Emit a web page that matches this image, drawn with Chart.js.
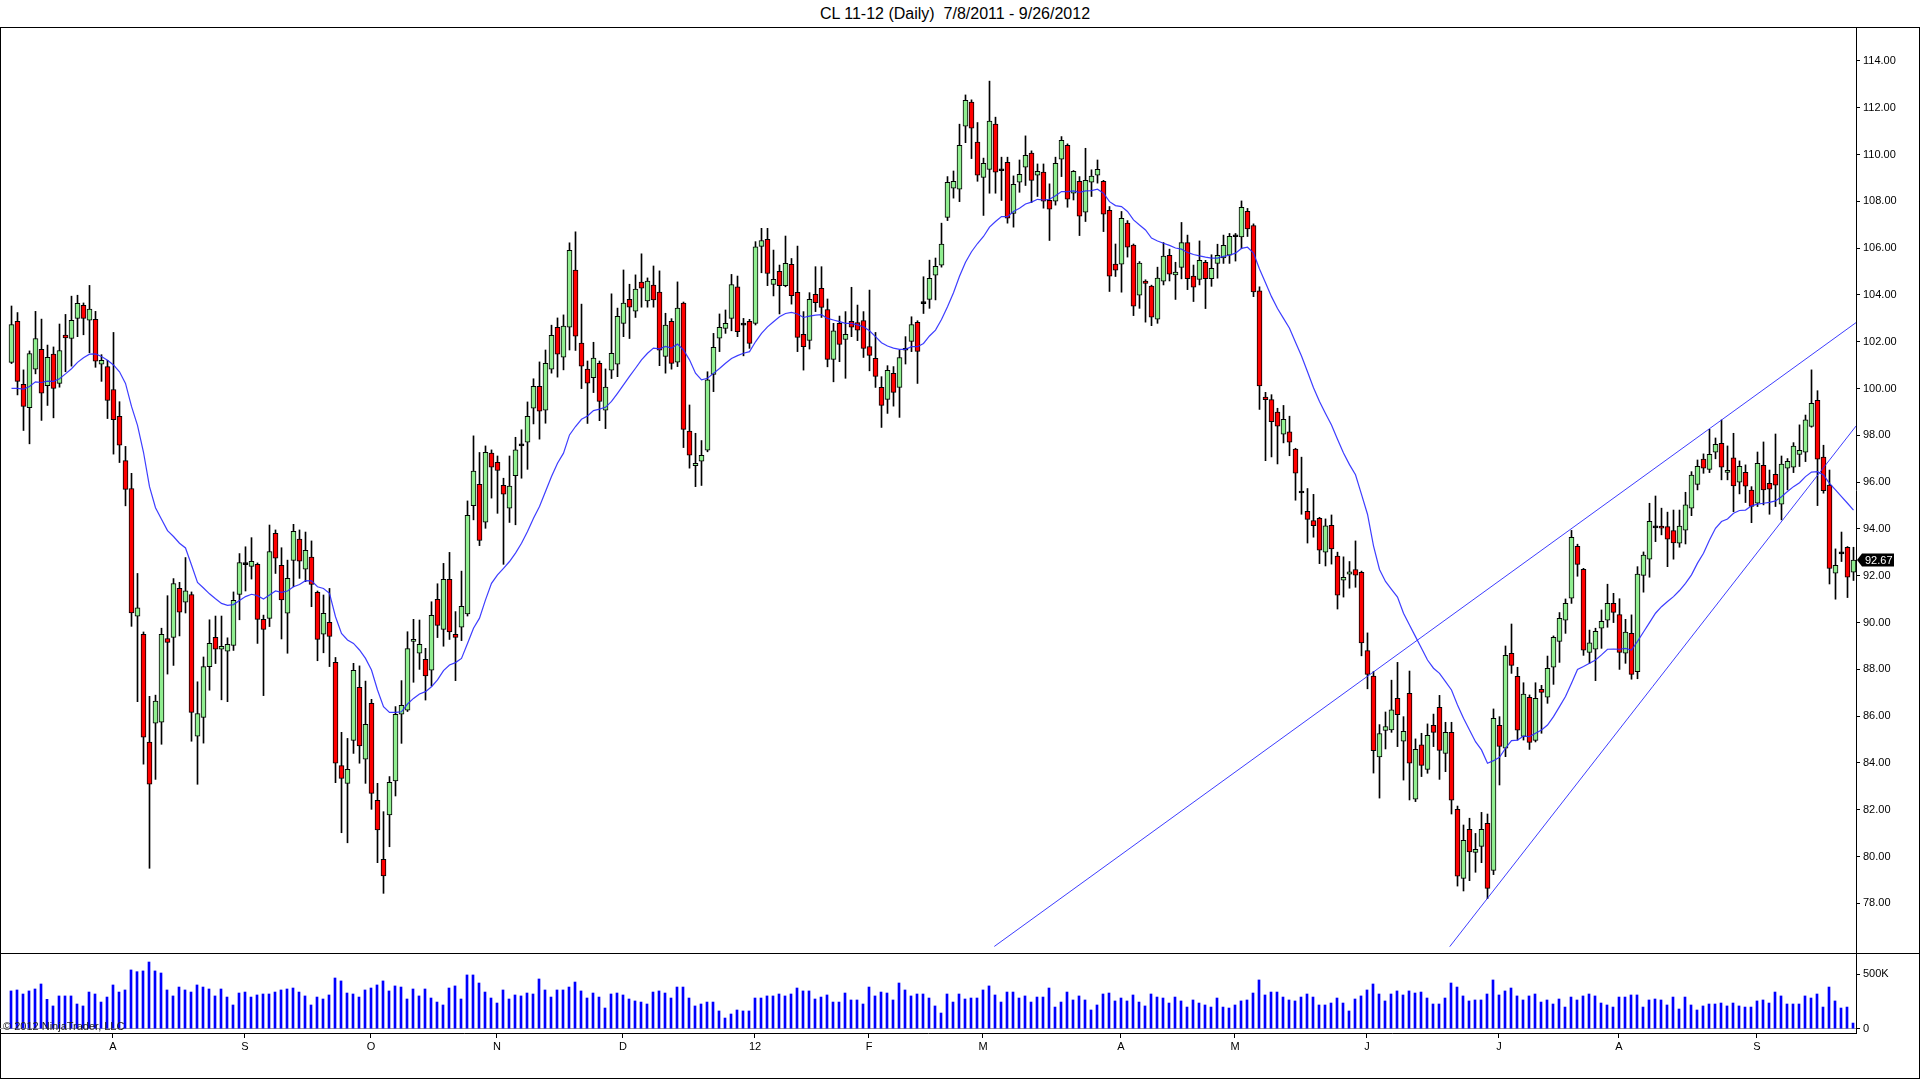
<!DOCTYPE html>
<html>
<head>
<meta charset="utf-8">
<title>CL 11-12 (Daily)</title>
<script src="https://cdn.jsdelivr.net/npm/chart.js@4.4.1/dist/chart.umd.min.js"></script>
<style>
  html, body { margin: 0; padding: 0; background: #fff; }
  body { width: 1920px; height: 1079px; position: relative; overflow: hidden; font-family: "Liberation Sans", Arial, sans-serif; }
  #title { position: absolute; left: 0; top: 0; width: 1910px; height: 27px; line-height: 27px; text-align: center; font-size: 16px; color: #000; white-space: pre; }
  #frame { position: absolute; left: 0; top: 27px; width: 1918px; height: 1050px; border: 1px solid #000; }
  #sep { position: absolute; left: 0; top: 953px; width: 1920px; height: 1px; background: #000; }
  #priceCanvas { position: absolute; left: 0; top: 27px; }
  #volCanvas { position: absolute; left: 0; top: 953px; }
  #copy { position: absolute; left: 3px; top: 1021px; font-size: 11px; line-height: 11px; color: #222; white-space: pre; }
</style>
</head>
<body>
<div id="title">CL 11-12 (Daily)  7/8/2011 - 9/26/2012</div>
<div id="frame"></div>
<canvas id="priceCanvas" width="1920" height="926"></canvas>
<canvas id="volCanvas" width="1920" height="125"></canvas>
<div id="sep"></div>
<div id="copy">© 2012 NinjaTrader, LLC</div>
<script>
// daily bars, 7/8/2011 .. 9/26/2012 (index = bar number)
const opens = [
  101.12, 102.87, 100.18, 99.19, 100.83, 101.68, 100.13, 101.47, 100.22, 102.29,
  102.14, 103.00, 103.56, 102.92, 102.96, 101.04, 100.94, 99.96, 98.82, 96.92,
  95.73, 90.27, 89.50, 84.89, 85.70, 85.74, 89.32, 89.37, 91.46, 90.87,
  91.20, 85.15, 85.95, 88.12, 89.37, 88.86, 88.78, 89.02, 91.20, 92.48,
  92.40, 92.49, 90.14, 90.18, 93.81, 92.45, 90.40, 92.66, 93.57, 92.28,
  92.80, 91.29, 89.50, 90.01, 88.30, 83.89, 83.13, 84.97, 87.23, 84.16,
  86.55, 82.40, 79.88, 81.78, 83.23, 86.09, 86.26, 89.20, 88.69, 88.43,
  87.97, 90.99, 89.71, 91.85, 89.50, 89.80, 90.37, 95.00, 95.91, 94.29,
  97.24, 96.85, 95.87, 94.89, 96.28, 97.55, 97.71, 99.16, 100.10, 99.08,
  100.83, 102.62, 101.34, 102.62, 105.06, 101.94, 100.83, 100.47, 101.08, 99.08,
  100.79, 101.04, 102.79, 103.82, 103.31, 104.55, 103.75, 104.42, 104.12, 101.38,
  102.88, 101.13, 103.65, 98.18, 96.71, 96.90, 97.37, 100.61, 102.15, 102.57,
  103.00, 104.35, 102.71, 102.87, 102.79, 106.08, 106.38, 104.45, 105.01, 104.40,
  105.31, 104.11, 102.32, 102.06, 104.03, 104.28, 103.38, 101.25, 102.79, 102.10,
  102.87, 102.82, 102.91, 101.80, 101.29, 100.05, 99.54, 100.65, 100.05, 101.64,
  102.02, 102.83, 103.63, 103.81, 104.85, 105.27, 107.32, 108.56, 108.52, 111.21,
  112.24, 110.53, 109.03, 109.37, 111.30, 109.31, 109.67, 107.49, 108.82, 109.46,
  110.06, 109.12, 109.25, 108.05, 108.01, 109.80, 110.40, 108.35, 108.86, 107.54,
  108.82, 109.12, 108.86, 107.62, 105.32, 105.32, 107.07, 106.13, 103.99, 104.59,
  104.38, 102.97, 104.59, 105.70, 104.86, 105.18, 106.24, 104.81, 104.67, 105.40,
  104.70, 105.35, 105.58, 105.70, 106.49, 106.48, 107.58, 106.97, 104.18, 99.64,
  99.53, 99.00, 98.05, 98.15, 97.41, 95.54, 94.75, 94.36, 94.46, 93.01,
  94.16, 92.84, 91.81, 92.07, 92.27, 92.15, 88.80, 87.71, 84.26, 85.39,
  85.41, 86.76, 84.93, 86.98, 82.45, 84.78, 83.73, 85.61, 86.38, 84.41,
  85.31, 82.02, 79.07, 81.17, 80.18, 80.44, 81.42, 79.41, 85.61, 84.63,
  88.69, 87.70, 85.14, 86.81, 84.97, 87.15, 86.81, 88.09, 89.20, 90.10,
  91.04, 93.26, 92.28, 88.73, 88.86, 89.76, 90.10, 90.82, 90.34, 88.69,
  89.54, 87.90, 92.02, 92.71, 94.05, 94.12, 94.10, 93.93, 93.39, 93.95,
  94.89, 95.91, 96.99, 96.55, 97.28, 97.66, 96.42, 97.04, 96.00, 96.42,
  95.66, 95.10, 96.72, 95.95, 96.34, 95.06, 96.60, 96.64, 97.19, 97.28,
  98.38, 99.50, 97.07, 95.88, 92.11, 92.94, 93.22, 92.15
];
const highs = [
  103.53, 103.25, 100.80, 101.61, 103.30, 102.97, 101.86, 101.78, 102.76, 103.17,
  103.95, 103.99, 103.66, 104.41, 103.30, 101.45, 101.21, 102.40, 99.44, 97.53,
  96.38, 92.10, 89.60, 86.85, 86.90, 89.76, 91.15, 91.88, 91.72, 92.78,
  91.31, 87.47, 88.53, 90.12, 90.28, 90.28, 89.35, 91.31, 92.95, 93.24,
  93.63, 92.55, 90.32, 94.17, 93.96, 93.20, 92.67, 94.20, 93.96, 93.87,
  93.49, 91.35, 91.18, 91.46, 88.51, 85.31, 85.05, 88.26, 88.15, 87.50,
  86.72, 83.13, 81.92, 83.42, 86.41, 87.52, 89.61, 90.14, 90.11, 88.90,
  90.89, 91.66, 92.53, 93.00, 90.47, 92.20, 95.20, 97.98, 97.27, 97.55,
  97.38, 97.12, 96.17, 97.12, 97.92, 98.24, 99.43, 100.42, 101.14, 101.65,
  102.71, 103.02, 103.15, 106.23, 106.70, 103.61, 101.18, 101.98, 101.18, 100.84,
  104.05, 103.44, 105.07, 104.46, 104.86, 105.76, 104.73, 105.24, 105.03, 103.22,
  102.99, 104.56, 103.70, 99.30, 98.09, 97.78, 100.72, 102.36, 103.19, 103.36,
  104.88, 104.81, 103.00, 102.96, 106.28, 106.85, 106.85, 105.92, 105.28, 106.52,
  105.56, 106.09, 103.29, 104.10, 105.21, 105.21, 103.83, 102.79, 103.10, 103.29,
  104.33, 103.57, 103.29, 104.21, 102.40, 100.51, 100.98, 100.94, 101.65, 102.22,
  103.07, 102.90, 104.78, 105.49, 105.58, 107.07, 109.06, 109.30, 111.30, 112.55,
  112.34, 111.37, 109.85, 113.14, 111.60, 109.89, 109.89, 109.09, 109.77, 110.80,
  110.16, 109.60, 109.60, 108.75, 109.89, 110.77, 110.46, 109.32, 109.06, 110.27,
  109.35, 109.77, 108.90, 107.78, 106.18, 107.57, 107.18, 106.18, 105.43, 104.65,
  104.42, 105.19, 106.24, 105.96, 105.40, 107.10, 106.56, 105.28, 106.31, 105.48,
  105.72, 106.17, 106.56, 106.63, 106.63, 108.02, 107.70, 107.04, 104.35, 99.84,
  99.74, 99.16, 99.28, 98.82, 97.45, 97.07, 95.73, 95.48, 94.50, 94.43,
  94.60, 93.01, 92.81, 92.61, 93.49, 92.20, 89.56, 87.91, 85.64, 86.18,
  87.54, 88.30, 85.98, 87.93, 85.03, 85.27, 85.67, 86.09, 86.89, 85.74,
  85.74, 82.16, 81.35, 81.64, 80.99, 81.89, 81.82, 86.31, 85.98, 89.00,
  89.94, 88.09, 87.43, 86.91, 87.43, 87.32, 88.57, 89.43, 90.43, 91.01,
  93.94, 93.35, 92.32, 89.68, 89.76, 90.54, 91.64, 91.25, 91.02, 90.14,
  90.33, 92.39, 93.02, 95.10, 95.41, 94.89, 94.72, 94.81, 94.81, 95.57,
  96.45, 96.95, 97.21, 98.26, 97.89, 98.66, 97.55, 98.09, 96.91, 96.74,
  95.81, 97.29, 97.72, 96.52, 98.06, 97.12, 97.01, 97.69, 98.45, 98.87,
  100.80, 99.91, 97.58, 96.52, 93.15, 93.87, 93.25, 93.22
];
const lows = [
  101.07, 99.73, 98.21, 97.64, 100.63, 98.64, 99.28, 98.75, 100.06, 100.72,
  100.96, 102.22, 102.30, 101.53, 100.91, 100.31, 98.72, 97.20, 96.84, 94.99,
  89.84, 86.62, 83.95, 79.50, 83.30, 84.80, 87.80, 88.17, 89.43, 90.41,
  84.93, 83.09, 84.85, 87.11, 88.25, 86.70, 86.62, 88.81, 90.12, 91.35,
  91.86, 89.11, 86.88, 89.83, 92.10, 89.30, 88.69, 91.53, 91.89, 91.75,
  90.68, 88.37, 88.71, 88.12, 83.16, 81.02, 80.59, 84.41, 83.99, 83.13,
  82.02, 79.74, 78.43, 80.42, 82.59, 84.84, 86.20, 87.45, 88.00, 86.69,
  87.29, 89.36, 88.99, 89.28, 87.52, 89.23, 90.28, 94.39, 93.29, 94.03,
  95.32, 94.67, 92.49, 94.28, 94.18, 96.17, 96.55, 98.49, 97.84, 98.52,
  100.66, 100.49, 100.80, 101.65, 101.63, 100.00, 98.51, 99.83, 98.63, 98.29,
  100.43, 100.51, 102.22, 102.14, 103.04, 103.48, 103.48, 103.48, 100.98, 100.66,
  100.83, 100.94, 97.48, 96.60, 95.81, 95.86, 97.30, 99.87, 101.58, 102.36,
  102.47, 102.22, 101.40, 101.72, 102.72, 104.95, 104.40, 103.96, 103.19, 104.35,
  103.61, 101.58, 100.79, 101.69, 103.29, 103.04, 100.93, 100.29, 101.15, 100.44,
  102.22, 102.05, 101.33, 100.76, 100.05, 98.34, 98.94, 99.25, 98.77, 101.05,
  101.58, 100.22, 103.21, 103.43, 103.79, 105.19, 107.18, 108.14, 107.99, 110.51,
  109.83, 108.86, 107.40, 108.35, 108.35, 108.04, 107.07, 106.90, 108.39, 108.68,
  107.95, 108.21, 107.71, 106.33, 107.84, 109.06, 107.75, 108.06, 106.54, 107.14,
  108.21, 108.78, 106.71, 104.15, 104.79, 104.12, 105.62, 103.12, 103.43, 102.84,
  102.69, 102.79, 104.43, 104.60, 103.81, 104.69, 104.23, 103.72, 104.43, 103.42,
  104.37, 104.72, 105.35, 105.35, 105.45, 105.99, 106.50, 103.93, 99.11, 96.92,
  97.08, 96.78, 97.68, 97.13, 95.23, 94.63, 93.40, 93.65, 92.52, 92.42,
  92.50, 90.58, 91.09, 91.47, 91.51, 88.58, 87.17, 83.57, 82.50, 84.60,
  85.31, 84.70, 83.27, 82.42, 82.35, 83.42, 83.56, 84.70, 83.30, 83.63,
  81.82, 78.74, 78.53, 78.97, 79.33, 79.74, 78.20, 79.23, 83.06, 84.27,
  87.83, 84.98, 84.98, 84.58, 84.90, 85.27, 86.55, 87.36, 88.30, 89.54,
  90.82, 91.98, 88.60, 88.26, 87.52, 88.90, 89.80, 90.00, 88.00, 88.26,
  87.58, 87.60, 91.30, 91.94, 93.46, 93.75, 92.39, 92.71, 93.22, 93.36,
  94.57, 95.67, 96.38, 96.41, 97.00, 96.10, 96.10, 94.74, 95.50, 95.13,
  94.27, 94.96, 95.03, 94.63, 94.96, 94.39, 95.67, 96.41, 96.67, 96.88,
  98.35, 95.00, 95.53, 91.65, 91.00, 92.61, 91.07, 91.80
];
const closes = [
  102.74, 100.31, 99.24, 101.50, 102.14, 99.80, 101.34, 100.01, 101.63, 102.17,
  102.92, 103.64, 103.00, 103.40, 101.17, 101.21, 99.49, 98.67, 97.58, 95.69,
  90.41, 90.63, 85.10, 83.09, 86.65, 89.50, 89.15, 91.67, 90.45, 91.36,
  86.16, 86.11, 88.12, 89.11, 88.86, 88.99, 89.07, 90.95, 92.57, 92.51,
  92.62, 90.14, 89.71, 93.04, 92.75, 90.97, 91.89, 93.90, 92.62, 93.09,
  91.63, 89.28, 90.40, 89.41, 83.99, 83.34, 83.73, 87.96, 84.73, 85.65,
  82.70, 81.14, 79.17, 83.17, 86.08, 86.46, 88.89, 89.28, 89.07, 87.72,
  90.31, 89.88, 91.85, 89.60, 89.37, 90.69, 94.58, 96.47, 93.51, 97.28,
  96.64, 96.50, 95.49, 95.83, 97.38, 97.59, 98.82, 100.10, 99.03, 101.08,
  102.28, 101.47, 102.67, 105.91, 102.24, 100.96, 100.23, 101.30, 99.45, 100.06,
  101.51, 103.09, 103.65, 103.48, 104.25, 104.29, 104.59, 103.79, 101.64, 102.71,
  101.08, 103.44, 98.26, 97.15, 96.81, 97.15, 100.37, 101.76, 102.62, 102.79,
  104.45, 102.43, 102.74, 101.93, 106.06, 106.33, 104.92, 104.67, 104.40, 105.35,
  103.97, 102.19, 101.79, 103.81, 103.67, 103.47, 101.25, 102.47, 101.89, 102.32,
  102.62, 102.50, 101.72, 101.42, 100.52, 99.28, 100.78, 99.84, 101.33, 101.67,
  102.74, 101.59, 103.66, 104.71, 105.22, 106.18, 108.82, 108.86, 110.40, 112.32,
  111.13, 109.12, 109.63, 111.43, 109.25, 109.34, 107.28, 108.73, 109.16, 109.97,
  108.90, 109.29, 108.01, 107.67, 109.63, 110.61, 108.09, 109.29, 107.37, 108.90,
  109.08, 109.37, 107.45, 104.80, 105.06, 107.28, 106.04, 103.52, 105.36, 104.50,
  103.05, 104.72, 105.66, 104.89, 104.98, 106.24, 104.70, 104.33, 105.48, 104.70,
  105.14, 105.70, 106.12, 106.51, 106.52, 107.75, 106.82, 104.13, 100.11, 99.53,
  98.59, 98.39, 98.69, 97.71, 96.39, 95.57, 94.41, 94.14, 93.10, 94.13,
  93.15, 91.17, 91.93, 92.17, 92.03, 89.13, 87.79, 84.53, 85.26, 85.56,
  86.27, 86.07, 85.35, 83.99, 84.58, 83.90, 85.18, 85.31, 84.54, 85.31,
  82.41, 79.16, 80.70, 80.20, 80.31, 81.17, 78.64, 85.91, 84.71, 88.60,
  88.17, 85.40, 86.94, 84.88, 86.76, 87.02, 88.05, 89.37, 90.18, 90.82,
  93.64, 92.49, 88.82, 89.14, 89.63, 90.05, 90.82, 90.44, 88.73, 89.59,
  87.79, 92.07, 92.88, 94.33, 94.07, 94.03, 93.56, 93.40, 94.12, 95.03,
  96.30, 96.68, 96.60, 97.19, 97.62, 96.64, 96.51, 95.84, 96.68, 95.83,
  94.97, 96.81, 95.67, 95.70, 95.87, 96.77, 96.89, 97.54, 97.36, 98.66,
  99.37, 96.98, 95.64, 92.31, 92.45, 92.96, 91.94, 92.67
];
const volumes = [
  347000, 356000, 319000, 347000, 365000, 411000, 270000, 209000, 301000, 301000,
  301000, 227000, 209000, 337000, 319000, 245000, 291000, 402000, 337000, 356000,
  540000, 524000, 531000, 613000, 531000, 512000, 356000, 301000, 383000, 356000,
  337000, 402000, 383000, 365000, 301000, 365000, 291000, 218000, 328000, 337000,
  291000, 310000, 319000, 319000, 337000, 356000, 365000, 374000, 337000, 301000,
  218000, 291000, 273000, 310000, 466000, 439000, 328000, 319000, 291000, 356000,
  374000, 402000, 439000, 347000, 393000, 383000, 273000, 365000, 301000, 365000,
  282000, 245000, 218000, 374000, 393000, 273000, 494000, 494000, 420000, 337000,
  282000, 236000, 356000, 273000, 310000, 301000, 328000, 319000, 457000, 356000,
  291000, 356000, 356000, 383000, 429000, 347000, 282000, 328000, 291000, 190000,
  319000, 328000, 310000, 273000, 255000, 245000, 227000, 337000, 347000, 328000,
  282000, 383000, 383000, 282000, 209000, 227000, 245000, 245000, 163000, 98000,
  135000, 172000, 163000, 163000, 282000, 282000, 301000, 301000, 319000, 301000,
  319000, 374000, 347000, 347000, 273000, 291000, 310000, 245000, 245000, 328000,
  264000, 264000, 227000, 383000, 301000, 337000, 328000, 264000, 420000, 356000,
  301000, 319000, 319000, 282000, 209000, 144000, 319000, 245000, 319000, 273000,
  282000, 282000, 356000, 393000, 310000, 245000, 337000, 337000, 282000, 301000,
  245000, 291000, 291000, 374000, 199000, 245000, 337000, 264000, 301000, 264000,
  172000, 218000, 319000, 328000, 255000, 282000, 255000, 310000, 245000, 209000,
  319000, 291000, 282000, 236000, 291000, 255000, 199000, 264000, 236000, 218000,
  199000, 282000, 199000, 190000, 218000, 255000, 264000, 328000, 448000, 310000,
  337000, 337000, 291000, 264000, 255000, 291000, 319000, 291000, 218000, 218000,
  236000, 282000, 236000, 163000, 273000, 301000, 356000, 411000, 319000, 255000,
  319000, 347000, 310000, 347000, 328000, 337000, 282000, 227000, 227000, 282000,
  420000, 383000, 301000, 255000, 264000, 264000, 319000, 448000, 310000, 347000,
  374000, 301000, 264000, 301000, 319000, 245000, 264000, 227000, 273000, 199000,
  291000, 264000, 301000, 319000, 301000, 236000, 218000, 199000, 291000, 291000,
  310000, 310000, 199000, 264000, 273000, 264000, 218000, 291000, 181000, 291000,
  218000, 172000, 209000, 227000, 227000, 236000, 209000, 236000, 209000, 199000,
  199000, 255000, 264000, 236000, 337000, 301000, 227000, 227000, 227000, 301000,
  282000, 319000, 199000, 383000, 255000, 190000, 199000, 52000
];
// moving average line as plotted on the chart
const smaValues = [
  100.01, 100.01, 99.98, 100.09, 100.29, 100.26, 100.32, 100.31, 100.42, 100.63,
  100.85, 101.12, 101.32, 101.47, 101.48, 101.37, 101.21, 101.01, 100.72, 100.22,
  99.24, 98.43, 97.28, 95.81, 94.91, 94.42, 93.93, 93.68, 93.39, 93.19,
  92.46, 91.72, 91.48, 91.23, 91.02, 90.82, 90.74, 90.77, 90.94, 91.11,
  91.21, 91.15, 91.01, 91.18, 91.35, 91.29, 91.35, 91.53, 91.63, 91.79,
  91.78, 91.53, 91.46, 91.25, 90.25, 89.54, 89.26, 89.11, 88.83, 88.47,
  87.97, 87.12, 86.41, 86.16, 86.16, 86.19, 86.52, 86.76, 86.95, 87.05,
  87.26, 87.55, 87.95, 88.19, 88.29, 88.47, 89.11, 89.76, 90.19, 90.97,
  91.68, 92.04, 92.32, 92.61, 92.97, 93.39, 93.89, 94.46, 94.96, 95.60,
  96.24, 96.81, 97.24, 98.02, 98.38, 98.69, 98.83, 99.06, 99.12, 99.20,
  99.45, 99.80, 100.16, 100.52, 100.87, 101.23, 101.51, 101.73, 101.70, 101.80,
  101.73, 101.90, 101.65, 101.23, 100.66, 100.37, 100.44, 100.65, 100.86, 101.08,
  101.29, 101.41, 101.51, 101.58, 102.00, 102.36, 102.64, 102.86, 103.07, 103.21,
  103.26, 103.19, 103.04, 103.10, 103.14, 103.16, 103.00, 102.93, 102.86, 102.79,
  102.79, 102.72, 102.64, 102.47, 102.22, 101.96, 101.82, 101.73, 101.68, 101.68,
  101.79, 101.79, 101.93, 102.25, 102.50, 102.95, 103.50, 104.10, 104.80, 105.40,
  105.85, 106.20, 106.50, 106.90, 107.14, 107.35, 107.35, 107.57, 107.71, 107.89,
  107.97, 108.09, 108.06, 108.09, 108.24, 108.42, 108.42, 108.45, 108.39, 108.45,
  108.46, 108.52, 108.35, 107.99, 107.82, 107.78, 107.57, 107.21, 106.99, 106.78,
  106.43, 106.31, 106.21, 106.12, 106.01, 105.96, 105.82, 105.73, 105.67, 105.62,
  105.58, 105.58, 105.65, 105.70, 105.79, 105.99, 106.04, 105.79, 105.11, 104.52,
  103.93, 103.42, 103.00, 102.58, 101.98, 101.39, 100.72, 100.04, 99.45, 98.94,
  98.44, 97.84, 97.25, 96.75, 96.32, 95.48, 94.63, 93.28, 92.27, 91.76,
  91.42, 91.09, 90.40, 89.90, 89.40, 88.90, 88.40, 88.05, 87.83, 87.48,
  87.12, 86.48, 85.91, 85.41, 84.91, 84.56, 83.99, 84.10, 84.24, 84.63,
  84.96, 84.98, 85.15, 85.13, 85.27, 85.41, 85.62, 85.98, 86.41, 86.84,
  87.41, 88.00, 88.12, 88.26, 88.40, 88.62, 88.86, 88.87, 88.86, 88.90,
  88.83, 89.20, 89.60, 90.00, 90.40, 90.68, 90.90, 91.11, 91.37, 91.68,
  92.04, 92.54, 92.96, 93.53, 94.03, 94.32, 94.43, 94.67, 94.79, 94.81,
  94.99, 95.06, 95.10, 95.14, 95.20, 95.38, 95.60, 95.81, 95.98, 96.24,
  96.43, 96.45, 96.31, 95.95, 95.67, 95.38, 95.10, 94.81
];
// drawn trend lines: [bar, price] end points
const upperLine = [[163.8, 76.16], [307.42, 102.82]];
const lowerLine = [[239.7, 76.15], [307.42, 98.40]];

const monthTickBars = [17, 39, 60, 81, 102, 124, 143, 162, 185, 204, 226, 248, 268, 291];
const monthLabels = ['A', 'S', 'O', 'N', 'D', '12', 'F', 'M', 'A', 'M', 'J', 'J', 'A', 'S'];
const priceTicks = [78, 80, 82, 84, 86, 88, 90, 92, 94, 96, 98, 100, 102, 104, 106, 108, 110, 112, 114];
const volumeTicks = [0, 500000];

Chart.defaults.font.family = '"Liberation Sans", Arial, sans-serif';
Chart.defaults.font.size = 11;
Chart.defaults.color = '#000';

const UP = '#90EE90', DOWN = '#FF0000', LINE = 'rgba(40,40,255,0.9)';

const bodyData = opens.map((o, i) => ({ x: i, y: [o, closes[i]] }));
const wickData = lows.map((l, i) => ({ x: i, y: [l, highs[i]] }));
const bodyColors = opens.map((o, i) => Math.abs(closes[i] - o) < 0.06 ? '#000' : (closes[i] > o ? UP : DOWN));
const smaData = smaValues.map((v, i) => ({ x: i, y: v }));
const toPts = arr => arr.map(p => ({ x: p[0], y: p[1] }));

const lastPriceTag = {
  id: 'lastPriceTag',
  afterDraw(chart) {
    const last = closes[closes.length - 1];
    const y = chart.scales.y.getPixelForValue(last);
    const x = chart.chartArea.right;
    const c = chart.ctx;
    c.save();
    c.fillStyle = '#000';
    c.beginPath();
    c.moveTo(x + 1, y);
    c.lineTo(x + 6, y - 6.5);
    c.lineTo(x + 38, y - 6.5);
    c.lineTo(x + 38, y + 6.5);
    c.lineTo(x + 6, y + 6.5);
    c.closePath();
    c.fill();
    c.fillStyle = '#fff';
    c.font = '11px "Liberation Sans", Arial, sans-serif';
    c.textBaseline = 'middle';
    c.fillText(last.toFixed(2), x + 9, y + 0.5);
    c.restore();
  }
};

new Chart(document.getElementById('priceCanvas'), {
  type: 'bar',
  data: {
    datasets: [
      { type: 'line', data: toPts(upperLine), borderColor: LINE, borderWidth: 1, pointRadius: 0, order: 0 },
      { type: 'line', data: toPts(lowerLine), borderColor: LINE, borderWidth: 1, pointRadius: 0, order: 0 },
      { type: 'line', data: smaData, borderColor: LINE, borderWidth: 1.2, pointRadius: 0, tension: 0, order: 1 },
      { data: bodyData, backgroundColor: bodyColors, borderColor: '#000', borderWidth: 1, borderSkipped: false,
        barThickness: 5, minBarLength: 2, grouped: false, order: 2 },
      { data: wickData, backgroundColor: '#000', borderWidth: 0, barThickness: 1, grouped: false, order: 3 }
    ]
  },
  options: {
    responsive: false,
    animation: false,
    devicePixelRatio: 1,
    events: [],
    layout: { padding: 0 },
    plugins: { legend: { display: false }, tooltip: { enabled: false } },
    scales: {
      x: { type: 'linear', display: false, min: -1.9167, max: 307.4167, offset: false, grid: { offset: false } },
      y: {
        type: 'linear', position: 'right', min: 75.88, max: 115.453,
        afterBuildTicks: s => { s.ticks = priceTicks.map(v => ({ value: v })); },
        afterFit: s => { s.width = 64; s.paddingTop = 0; s.paddingBottom = 0; },
        ticks: { callback: v => Number(v).toFixed(2), padding: 3, autoSkip: false, color: '#000' },
        grid: { drawOnChartArea: false, tickLength: 4, color: '#000' },
        border: { display: true, color: '#000', width: 1 }
      }
    }
  },
  plugins: [lastPriceTag]
});

new Chart(document.getElementById('volCanvas'), {
  type: 'bar',
  data: {
    datasets: [
      { data: volumes.map((v, i) => ({ x: i, y: v })), backgroundColor: '#0000FF', borderWidth: 0, barThickness: 2 }
    ]
  },
  options: {
    responsive: false,
    animation: false,
    devicePixelRatio: 1,
    events: [],
    layout: { padding: 0 },
    plugins: { legend: { display: false }, tooltip: { enabled: false } },
    scales: {
      x: {
        type: 'linear', min: -1.8333, max: 307.5, offset: false,
        afterBuildTicks: s => { s.ticks = monthTickBars.map(v => ({ value: v })); },
        afterFit: s => { s.height = 45; s.paddingLeft = 0; s.paddingRight = 0; },
        ticks: { callback: (v, i) => monthLabels[i], autoSkip: false, maxRotation: 0, padding: 2, color: '#000' },
        grid: { drawOnChartArea: false, tickLength: 5, color: '#000', offset: false },
        border: { display: true, color: '#000', width: 1 }
      },
      y: {
        type: 'linear', position: 'right', min: -39522, max: 695772,
        afterBuildTicks: s => { s.ticks = volumeTicks.map(v => ({ value: v })); },
        afterFit: s => { s.width = 64; s.paddingTop = 0; s.paddingBottom = 0; },
        ticks: { callback: v => v === 0 ? '0' : (v / 1000) + 'K', padding: 3, autoSkip: false, color: '#000' },
        grid: {
          drawOnChartArea: true, tickLength: 4, tickColor: '#000',
          color: c => (c.tick && c.tick.value === 0) ? '#a0a0a0' : 'rgba(0,0,0,0)'
        },
        border: { display: true, color: '#000', width: 1 }
      }
    }
  }
});
</script>
</body>
</html>
